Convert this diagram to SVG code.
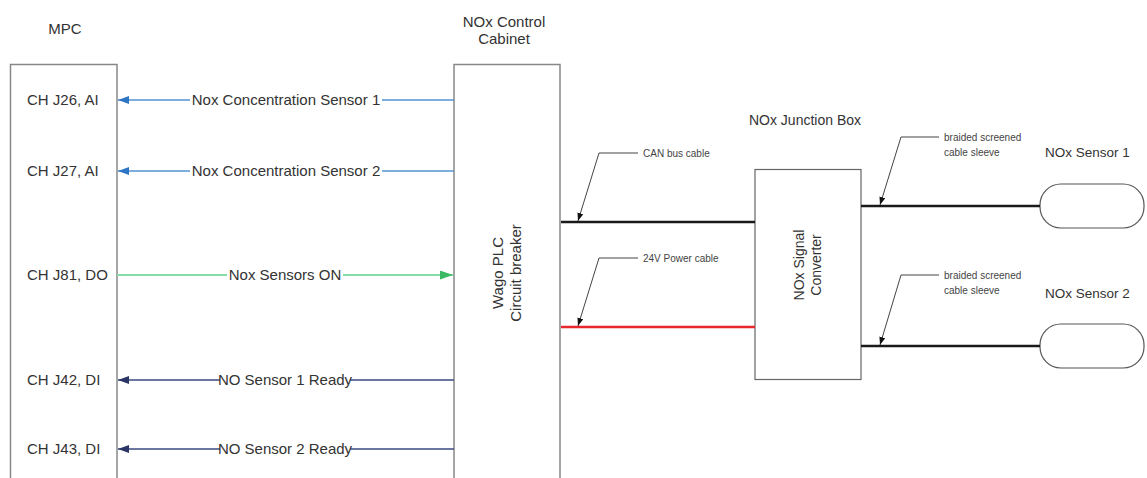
<svg xmlns="http://www.w3.org/2000/svg" width="1147" height="478" viewBox="0 0 1147 478">
  <style>
    text { font-family: "Liberation Sans", Arial, sans-serif; fill: #333; }
    .lbl { font-size: 15px; }
    .rlbl { font-size: 14px; }
    .small { font-size: 10px; fill: #444; }
    .box { fill: #fff; stroke: #888; stroke-width: 1.5; }
    .conv { fill: #fff; stroke: #666; stroke-width: 1.2; }
    .cap { fill: #fff; stroke: #555; stroke-width: 1.2; }
    .blue { stroke: #5393d3; stroke-width: 1.6; fill: none; }
    .green { stroke: #86dca6; stroke-width: 1.8; fill: none; }
    .navy { stroke: #3b4a82; stroke-width: 1.6; fill: none; }
    .cable { stroke: #1a1a1a; stroke-width: 2.6; fill: none; }
    .power { stroke: #e8262c; stroke-width: 2.6; fill: none; }
    .leader { stroke: #444; stroke-width: 1; fill: none; }
  </style>
  <defs>
    <marker id="ah-blue" markerUnits="userSpaceOnUse" markerWidth="11" markerHeight="8" refX="11" refY="4" orient="auto">
      <path d="M0,0 L11,4 L0,8 z" fill="#2e75c4"/>
    </marker>
    <marker id="ah-green" markerUnits="userSpaceOnUse" markerWidth="13" markerHeight="9" refX="13" refY="4.5" orient="auto">
      <path d="M0,0 L13,4.5 L0,9 z" fill="#3cb964"/>
    </marker>
    <marker id="ah-navy" markerUnits="userSpaceOnUse" markerWidth="11" markerHeight="8" refX="11" refY="4" orient="auto">
      <path d="M0,0 L11,4 L0,8 z" fill="#2a3566"/>
    </marker>
    <marker id="ah-leader" markerUnits="userSpaceOnUse" markerWidth="8" markerHeight="6" refX="8" refY="3" orient="auto">
      <path d="M0,0 L8,3 L0,6 z" fill="#111"/>
    </marker>
  </defs>

  <!-- MPC -->
  <g id="mpc">
    <text class="lbl" x="65" y="34" text-anchor="middle">MPC</text>
    <rect class="box" x="10.5" y="64.5" width="106.5" height="430"/>
    <text class="lbl" x="27" y="105">CH J26, AI</text>
    <text class="lbl" x="27" y="176">CH J27, AI</text>
    <text class="lbl" x="27" y="280">CH J81, DO</text>
    <text class="lbl" x="27" y="385">CH J42, DI</text>
    <text class="lbl" x="27" y="454">CH J43, DI</text>
  </g>

  <!-- NOx control cabinet -->
  <g id="cabinet">
    <text class="lbl" x="504" y="27" text-anchor="middle">NOx Control</text>
    <text class="lbl" x="504" y="44" text-anchor="middle">Cabinet</text>
    <rect class="box" x="454" y="64.5" width="106" height="430"/>
    <g transform="translate(506,273) rotate(-90)">
      <text class="lbl" x="0" y="-3" text-anchor="middle">Wago PLC</text>
      <text class="lbl" x="0" y="15" text-anchor="middle">Circuit breaker</text>
    </g>
  </g>

  <!-- Junction box with signal converter -->
  <g id="junction-box">
    <text class="rlbl" x="805" y="125" text-anchor="middle">NOx Junction Box</text>
    <rect class="conv" x="755" y="169.5" width="106" height="210"/>
    <g transform="translate(808,265) rotate(-90)">
      <text class="rlbl" x="0" y="-4" text-anchor="middle">NOx Signal</text>
      <text class="rlbl" x="0" y="13" text-anchor="middle">Converter</text>
    </g>
  </g>

  <!-- Sensors -->
  <g id="sensor-1">
    <text class="rlbl" x="1045" y="157" style="font-size:13.5px">NOx Sensor 1</text>
    <rect class="cap" x="1040" y="184" width="104" height="44" rx="21" ry="21"/>
  </g>
  <g id="sensor-2">
    <text class="rlbl" x="1045" y="298" style="font-size:13.5px">NOx Sensor 2</text>
    <rect class="cap" x="1040" y="324" width="104" height="44" rx="21" ry="21"/>
  </g>

  <!-- Connectors -->
  <g id="connectors">
    <!-- analogue inputs -->
    <path class="blue" d="M454,100 H382"/>
    <path class="blue" d="M190,100 H118" marker-end="url(#ah-blue)"/>
    <text class="lbl" x="286" y="105" text-anchor="middle">Nox Concentration Sensor 1</text>
    <path class="blue" d="M454,171 H382"/>
    <path class="blue" d="M190,171 H118" marker-end="url(#ah-blue)"/>
    <text class="lbl" x="286" y="176" text-anchor="middle">Nox Concentration Sensor 2</text>

    <!-- digital output -->
    <path class="green" d="M117,275 H227"/>
    <path class="green" d="M343,275 H453" marker-end="url(#ah-green)"/>
    <text class="lbl" x="285" y="280" text-anchor="middle">Nox Sensors ON</text>

    <!-- digital inputs -->
    <path class="navy" d="M454,380 H350"/>
    <path class="navy" d="M220,380 H118" marker-end="url(#ah-navy)"/>
    <text class="lbl" x="285" y="385" text-anchor="middle">NO Sensor 1 Ready</text>
    <path class="navy" d="M454,449 H350"/>
    <path class="navy" d="M220,449 H118" marker-end="url(#ah-navy)"/>
    <text class="lbl" x="285" y="454" text-anchor="middle">NO Sensor 2 Ready</text>

    <!-- cabinet to junction box -->
    <path class="cable" d="M561,222 H755"/>
    <path class="power" d="M561,327 H755"/>

    <!-- junction box to sensors -->
    <path class="cable" d="M861,206 H1040"/>
    <path class="cable" d="M861,346 H1040"/>

    <!-- cable callouts -->
    <path class="leader" d="M638,153 H599 L578,221" marker-end="url(#ah-leader)"/>
    <text class="small" x="643" y="156.5">CAN bus cable</text>
    <path class="leader" d="M638,258 H599 L578,326" marker-end="url(#ah-leader)"/>
    <text class="small" x="643" y="261.5">24V Power cable</text>
    <path class="leader" d="M939,137 H901 L880,205" marker-end="url(#ah-leader)"/>
    <text class="small" x="944" y="140.5">braided screened</text>
    <text class="small" x="944" y="155.5">cable sleeve</text>
    <path class="leader" d="M939,275 H901 L880,345" marker-end="url(#ah-leader)"/>
    <text class="small" x="944" y="278.5">braided screened</text>
    <text class="small" x="944" y="293.5">cable sleeve</text>
  </g>
</svg>
